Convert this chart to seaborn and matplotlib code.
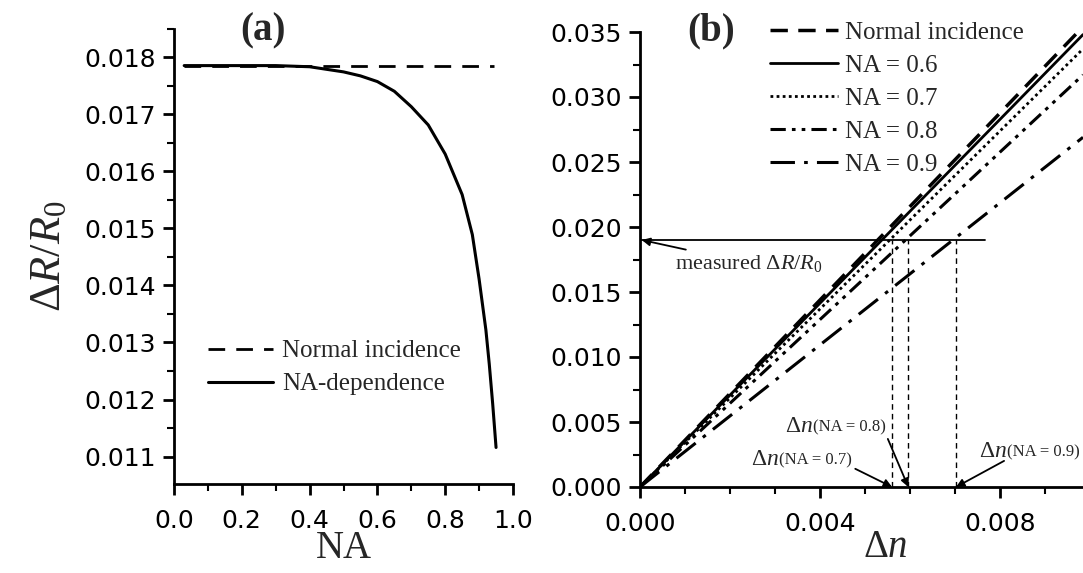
import numpy as np
import pandas as pd
import matplotlib
matplotlib.use('Agg')
import matplotlib.pyplot as plt
import seaborn as sns
from matplotlib.ticker import MultipleLocator, FormatStrFormatter

# panel (a): dR/R0 vs NA
na_vals = [0.03, 0.1, 0.2, 0.3, 0.4, 0.5, 0.55, 0.6, 0.65, 0.7, 0.75, 0.8,
           0.85, 0.88, 0.9, 0.92, 0.93, 0.94, 0.95]
dr_na = [0.01785, 0.01785, 0.01785, 0.01785, 0.01783, 0.01774, 0.01767,
         0.01757, 0.01740, 0.01713, 0.01681, 0.01630, 0.01559, 0.01489,
         0.01411, 0.01322, 0.01262, 0.01193, 0.01116]
normal_na = [0.03, 0.945]
normal_dr = [0.01785, 0.01785]

# panel (b): dR/R0 vs delta n
dn_range = [0.0, 0.00984]
dr_normal = [0.0, 0.0354]
dr_na06 = [0.0, 0.0348]
dr_na07 = [0.0, 0.0337]
dr_na08 = [0.0, 0.0317]
dr_na09 = [0.0, 0.0269]
measured_dr = 0.0190
measured_end = 0.00767
dn_found = [0.00560, 0.00596, 0.00702]
found_labels = ['0.7', '0.8', '0.9']

sns.set_style('ticks')
plt.rcParams['font.family'] = ['DejaVu Sans']
plt.rcParams['mathtext.fontset'] = 'custom'
plt.rcParams['mathtext.rm'] = 'Liberation Serif'
plt.rcParams['mathtext.it'] = 'Liberation Serif:italic'
plt.rcParams['mathtext.bf'] = 'Liberation Serif:bold'

W, H = 1083, 573
fig = plt.figure(figsize=(W / 100, H / 100), dpi=100)
a_top, a_bot = 28.5, 484
b_top, b_bot = 32, 487
ax_a = fig.add_axes([174 / W, 1 - a_bot / H, 339 / W, (a_bot - a_top) / H])
ax_b = fig.add_axes([640 / W, 1 - b_bot / H, (W - 640) / W, (b_bot - b_top) / H])

serif = 'Liberation Serif'
tick_fs = 18
xlab_y = 548

def style_axes(ax):
    for s in ['top', 'right']:
        ax.spines[s].set_visible(False)
    for s in ['left', 'bottom']:
        ax.spines[s].set_linewidth(2)
        ax.spines[s].set_color('black')
    ax.tick_params(which='major', direction='out', length=8, width=2,
                   labelsize=tick_fs, colors='black', pad=5)
    ax.tick_params(axis='x', which='major', pad=10)
    ax.tick_params(which='minor', direction='out', length=5, width=1.5,
                   colors='black')
    ax.set_facecolor('white')

# ---- (a)
df_a = pd.DataFrame({'NA': na_vals, 'dR': dr_na})
sns.lineplot(x=normal_na, y=normal_dr, ax=ax_a, color='black', lw=2,
             label='Normal incidence')
ax_a.lines[-1].set_dashes((6, 4))
sns.lineplot(data=df_a, x='NA', y='dR', ax=ax_a, color='black', lw=2.2,
             label='NA-dependence', sort=False)
ax_a.set_xlim(0, 1.0)
ax_a.set_ylim(0.01052, 0.0185)
ax_a.xaxis.set_major_locator(MultipleLocator(0.2))
ax_a.xaxis.set_minor_locator(MultipleLocator(0.1))
ax_a.yaxis.set_major_locator(MultipleLocator(0.001))
ax_a.yaxis.set_minor_locator(MultipleLocator(0.0005))
ax_a.xaxis.set_major_formatter(FormatStrFormatter('%.1f'))
ax_a.yaxis.set_major_formatter(FormatStrFormatter('%.3f'))
style_axes(ax_a)
ax_a.set_xlabel('NA', family=serif, fontsize=28, va='center')
ax_a.xaxis.set_label_coords(0.5, (a_bot - xlab_y) / (a_bot - a_top))
ax_a.set_ylabel(r'$\Delta R/R_0$', fontsize=32, va='center')
ax_a.yaxis.set_label_coords((48 - 174) / 339, 0.5)
fig.text(263 / W, 1 - 31 / H, '(a)', family=serif, fontsize=28,
         fontweight='bold', ha='center', va='center')
ax_a.legend(loc='center left', bbox_to_anchor=(208 / W, 1 - 367.5 / H),
            bbox_transform=fig.transFigure, frameon=False,
            prop={'family': serif, 'size': 18}, handlelength=2.6,
            handletextpad=0.35, borderpad=0, borderaxespad=0,
            labelspacing=0.42)

# ---- (b)
styles = [
    (dr_normal, 'Normal incidence', (5, 3), 2.5),
    (dr_na06, 'NA = 0.6', None, 2),
    (dr_na07, 'NA = 0.7', (1, 1.2), 2),
    (dr_na08, 'NA = 0.8', (5, 2, 1.2, 2, 1.2, 2), 2.2),
    (dr_na09, 'NA = 0.9', (8, 3, 1.2, 3), 2.2),
]
for yv, lab, dash, lw in styles:
    sns.lineplot(x=dn_range, y=yv, ax=ax_b, color='black', lw=lw, label=lab)
    if dash is not None:
        ax_b.lines[-1].set_dashes(dash)

ax_b.plot([0, measured_end], [measured_dr, measured_dr], color='black', lw=1.3)
for d in dn_found:
    ax_b.plot([d, d], [0, measured_dr], color='black', lw=1, dashes=(4, 3))

ax_b.set_xlim(0, 0.00984)
ax_b.set_ylim(0, 0.035)
ax_b.xaxis.set_major_locator(MultipleLocator(0.004))
ax_b.xaxis.set_minor_locator(MultipleLocator(0.001))
ax_b.yaxis.set_major_locator(MultipleLocator(0.005))
ax_b.yaxis.set_minor_locator(MultipleLocator(0.0025))
ax_b.xaxis.set_major_formatter(FormatStrFormatter('%.3f'))
ax_b.yaxis.set_major_formatter(FormatStrFormatter('%.3f'))
style_axes(ax_b)
ax_b.set_xlabel(r'$\Delta n$', fontsize=28, va='center')
ax_b.xaxis.set_label_coords((885 - 640) / (W - 640), (b_bot - xlab_y + 2) / (b_bot - b_top))
ax_b.set_ylabel('')
fig.text(711 / W, 1 - 31 / H, '(b)', family=serif, fontsize=28,
         fontweight='bold', ha='center', va='center')
ax_b.legend(loc='center left', bbox_to_anchor=(770 / W, 1 - 98.5 / H),
            bbox_transform=fig.transFigure, frameon=False,
            prop={'family': serif, 'size': 18}, handlelength=2.7,
            handletextpad=0.3, borderpad=0, borderaxespad=0,
            labelspacing=0.42)

arrow = dict(arrowstyle='-|>', color='black', lw=1.3, mutation_scale=12,
             shrinkA=0, shrinkB=0)
ax_b.annotate(r'measured $\Delta R/R_0$', xy=(0.00004, measured_dr),
              xytext=(0.00078, 0.0172), family=serif, fontsize=16,
              ha='left', va='center', arrowprops=arrow)

# annotation labels: "Δn" large, "(NA = ..)" small, sharing one baseline
ann_pos = [(0.00309, 0.00231, 'right'), (0.00384, 0.00486, 'right'),
           (0.00816, 0.00293, 'left')]
for d, lab, (bx, by, side) in zip(dn_found, found_labels, ann_pos):
    base = by - 0.0006
    ax_b.text(bx, base, r'$\Delta n$', fontsize=17, ha='right', va='baseline')
    ax_b.annotate('(NA = %s)' % lab, xy=(d, 0), xytext=(bx, base),
                  family=serif, fontsize=12, ha='left', va='baseline',
                  arrowprops=dict(arrow, relpos=(1 if side == 'right' else 0, 0.1)))

fig.savefig('out.png', dpi=100, facecolor='white')
